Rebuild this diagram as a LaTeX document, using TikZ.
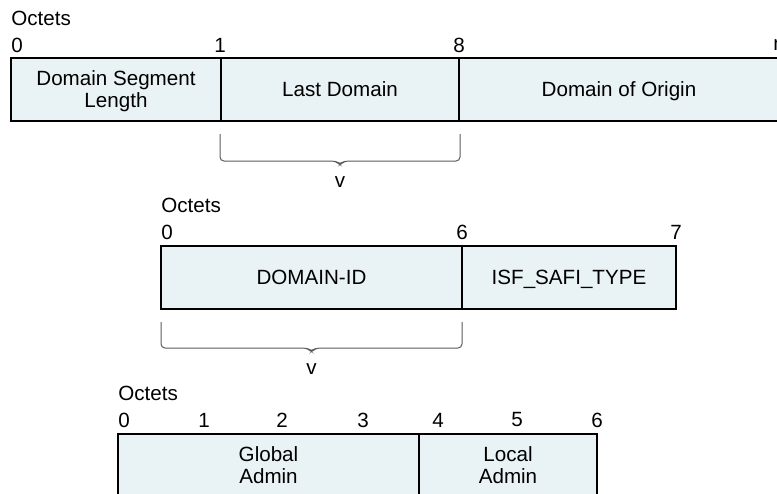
\documentclass[tikz,border=0pt]{standalone}
\usepackage{fontspec}
\setmainfont{Liberation Sans}
\definecolor{cellfill}{RGB}{233,242,244}
\definecolor{bracegray}{RGB}{90,90,90}
\newcommand\tp{\rule{0pt}{9.6pt}}
\newcommand\bt{\rule[-2.2pt]{0pt}{2.2pt}}
\begin{document}
\begin{tikzpicture}[x=0.5pt,y=-0.5pt,
  every node/.style={font=\fontsize{10.3pt}{11pt}\selectfont, inner sep=0pt, text=black},
  cell/.style={draw=black, line width=1.2pt, fill=cellfill, align=center, minimum height=31.5pt},
  bracket/.style={draw=bracegray, line width=0.5pt, rounded corners=2pt}]
\useasboundingbox (0,0) rectangle (777,493);
\clip (0,0) rectangle (777,493);
% ---------- first layout ----------
\node[anchor=west] (oct1) at (11,18) {Octets};
\node[anchor=west] (a0) at (11,45) {0};
\node (a1) at (220,45) {1};
\node (a8) at (459,45) {8};
\node (an) at (779,45) {n};
\node[cell, minimum width=105pt] (dsl) at (116,89.5) {\tp Domain Segment\\Length\bt};
\node[cell, minimum width=119pt] (ld) at (340,89.5) {\tp Last Domain\bt};
\node[cell, minimum width=160pt] (doo) at (619,89.5) {\tp Domain of Origin\bt};
\coordinate (b1l) at (220,134);
\coordinate (b1r) at (460,134);
\draw[bracket] (b1l) -- (220,161) -- (336,161) -- (340,165) -- (344,161) -- (460,161) -- (b1r);
\node (v1) at (340,182) {v};
% ---------- second layout ----------
\node[anchor=west] (oct2) at (161,205) {Octets};
\node[anchor=west] (c0) at (161,232) {0};
\node (c6) at (462,232) {6};
\node (c7) at (676,232) {7};
\node[cell, minimum width=150.5pt] (did) at (311.5,277.5) {\tp DOMAIN-ID\bt};
\node[cell, minimum width=107pt] (isf) at (569,277.5) {\tp ISF\_SAFI\_TYPE\bt};
\coordinate (b2l) at (161,322);
\coordinate (b2r) at (462,322);
\draw[bracket] (b2l) -- (161,348) -- (307.5,348) -- (311.5,352) -- (315.5,348) -- (462,348) -- (b2r);
\node (v2) at (311.5,369) {v};
% ---------- third layout ----------
\node[anchor=west] (oct3) at (118,393) {Octets};
\node[anchor=west] (e0) at (118,420) {0};
\node (e1) at (204,420) {1};
\node (e2) at (282,420) {2};
\node (e3) at (363,420) {3};
\node (e4) at (438,420) {4};
\node (e5) at (517,420) {5};
\node (e6) at (597,420) {6};
\node[cell, minimum width=150.5pt] (ga) at (268.5,465.5) {\tp Global\\Admin\bt};
\node[cell, minimum width=89pt] (la) at (508,465.5) {\tp Local\\Admin\bt};
\end{tikzpicture}
\end{document}
